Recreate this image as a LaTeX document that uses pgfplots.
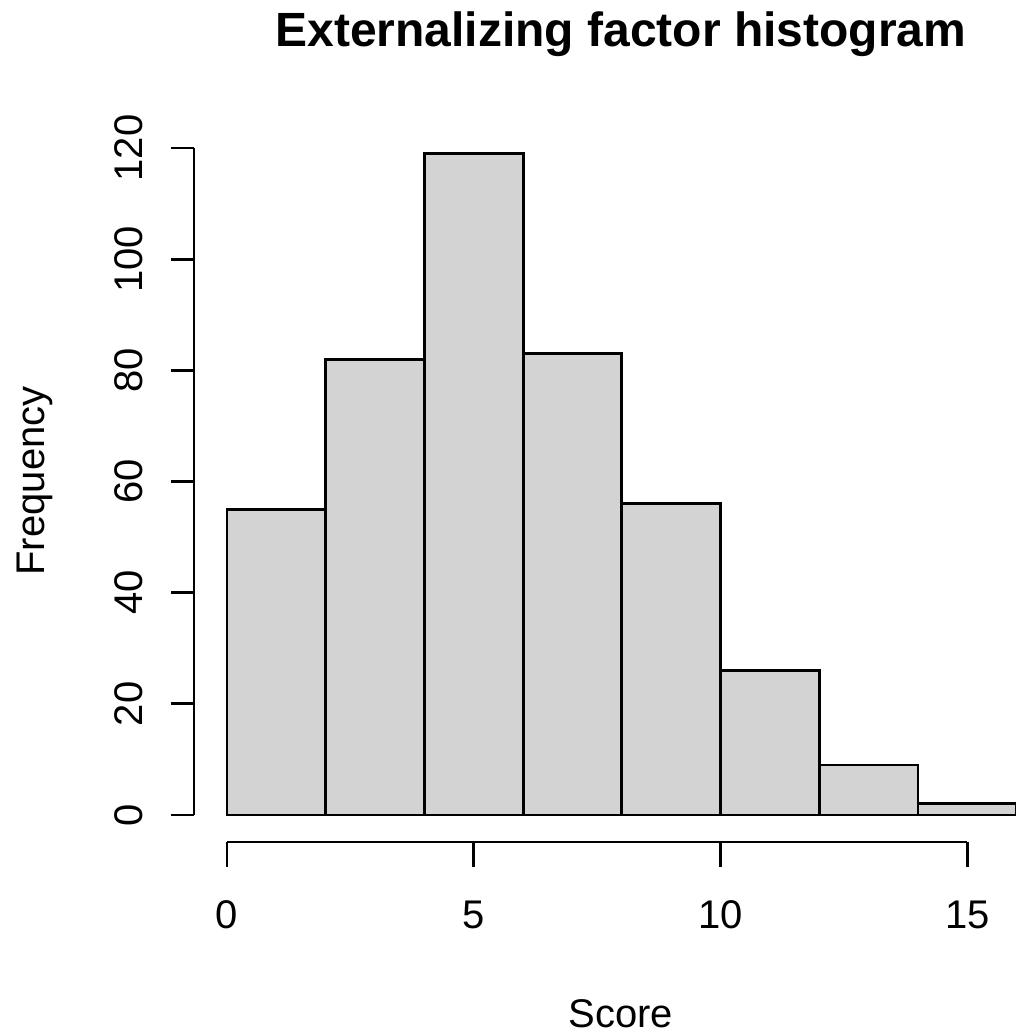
\documentclass[border=0pt]{standalone}
\usepackage{pgfplots}
\pgfplotsset{compat=1.18}
\usepackage{fontspec}
\setmainfont{Liberation Sans}
\definecolor{rgray}{RGB}{211,211,211}
\begin{document}
\begin{tikzpicture}
\begin{axis}[
  x=24.675pt, y=2.779pt,
  xmin=-4.6, xmax=15.97, ymin=-39.76, ymax=146.64,
  axis lines=none, clip=false,
]
\addplot[ybar interval, fill=rgray, draw=black, line width=1.4pt] coordinates {
 (0,55) (2,82) (4,119) (6,83) (8,56) (10,26) (12,9) (14,2) (16,2)
};
% y axis
\draw[line width=1.4pt] (axis cs:-0.669,0) -- (axis cs:-0.669,120);
\pgfplotsinvokeforeach{0,20,40,60,80,100,120}{
  \draw[line width=1.4pt] (axis cs:-0.669,#1) -- (axis cs:-1.135,#1);
  \node[rotate=90, anchor=base, font=\fontsize{20}{24}\selectfont, inner sep=0pt] at (axis cs:-1.722,#1) {#1};
}
% x axis
\draw[line width=1.4pt] (axis cs:0,-4.858) -- (axis cs:15,-4.858);
\pgfplotsinvokeforeach{0,5,10,15}{
  \draw[line width=1.4pt] (axis cs:#1,-4.858) -- (axis cs:#1,-9.356);
  \node[anchor=base, font=\fontsize{20}{24}\selectfont, inner sep=0pt] at (axis cs:#1,-20.5) {#1};
}
\node[anchor=base, font=\fontsize{20}{24}\selectfont, inner sep=0pt] at (axis cs:7.98,-38.3) {Score};
\node[rotate=90, anchor=base, font=\fontsize{20}{24}\selectfont, inner sep=0pt] at (axis cs:-3.708,60.1) {Frequency};
\node[anchor=base, font=\fontsize{24}{28}\selectfont\bfseries, inner sep=0pt] at (axis cs:7.98,138.2) {Externalizing factor histogram};
\coordinate (tl) at (axis cs:-4.6,146.64);
\coordinate (br) at (axis cs:15.97,-39.76);
\end{axis}
\pgfresetboundingbox
\useasboundingbox (tl) rectangle (br);
\end{tikzpicture}
\end{document}
